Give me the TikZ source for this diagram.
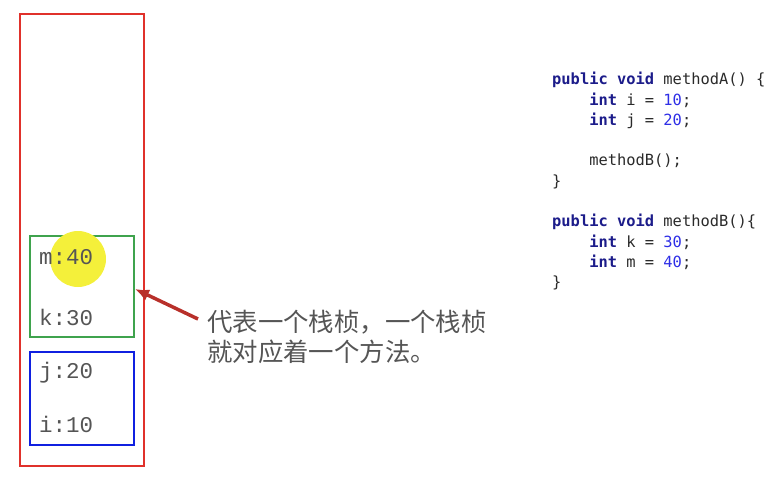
\documentclass[tikz,border=0pt]{standalone}
\usepackage{fontspec}
\setmonofont{Liberation Mono}
\newfontfamily\cjk{Noto Sans CJK SC}
\newfontfamily\codefont{DejaVu Sans Mono}
\usetikzlibrary{positioning, arrows.meta}

\definecolor{stackred}{HTML}{E0312B}
\definecolor{framegreen}{HTML}{3FA34D}
\definecolor{frameblue}{HTML}{1020E0}
\definecolor{arrowred}{HTML}{B8302A}
\definecolor{kwblue}{HTML}{1C1C8A}
\definecolor{numblue}{HTML}{2E2EE6}
\definecolor{codegray}{HTML}{2A2A2A}
\definecolor{hlyellow}{HTML}{F4F03A}

\newcommand{\kw}[1]{\textcolor{kwblue}{\bfseries #1}}
\newcommand{\num}[1]{\textcolor{numblue}{#1}}
\newcommand{\ind}{\phantom{xxxx}}

\begin{document}
\begin{tikzpicture}[x=1pt, y=-1pt,
    box/.style={draw, line width=2pt, inner sep=0pt},
    slot/.style={anchor=west, text=codegray!80, inner sep=0pt, font=\ttfamily\fontsize{22.5}{22.5}\selectfont},
    note/.style={anchor=west, align=left, text=codegray!80, inner sep=0pt, font=\cjk\fontsize{25.4}{30}\selectfont},
    code/.style={anchor=north west, align=left, text=codegray, inner sep=0pt, font=\codefont\fontsize{15.4}{20.3}\selectfont},
    pointer/.style={-{Latex[length=14pt, width=12pt]}, line width=3.5pt, draw=arrowred}]
    \useasboundingbox (0,0) rectangle (779,480);

    % the stack
    \node[box, draw=stackred, minimum width=124pt, minimum height=452pt] (stack) at (82,240) {};
    \node[box, draw=framegreen, minimum width=104pt, minimum height=101pt] (frameB) at (82,286.5) {};
    \node[box, draw=frameblue, minimum width=104pt, minimum height=93pt] (frameA) at (82,398.5) {};

    % cursor highlight
    \node[circle, fill=hlyellow, minimum size=56pt, inner sep=0pt] (cursor) at (78,259) {};

    \node[slot] (m) at (39,257) {m:40};
    \node[slot] (k) at (39,317) {k:30};
    \node[slot] (j) at (39,373) {j:20};
    \node[slot] (i) at (39,424) {i:10};

    % explanation
    \node[note] (expl) at (207,337) {代表一个栈桢，一个栈桢\\就对应着一个方法。};
    \coordinate (tail) at (198,319);
    \draw[pointer] (tail) -- (frameB.east |- 0,289);

    % source code
    \node[code] (src) at (552,72) {%
        \kw{public} \kw{void} methodA() \{\\
        \ind\kw{int} i = \num{10};\\
        \ind\kw{int} j = \num{20};\\
        \mbox{}\\
        \ind methodB();\\
        \}\\
        \mbox{}\\
        \kw{public} \kw{void} methodB()\{\\
        \ind\kw{int} k = \num{30};\\
        \ind\kw{int} m = \num{40};\\
        \}};
\end{tikzpicture}
\end{document}
